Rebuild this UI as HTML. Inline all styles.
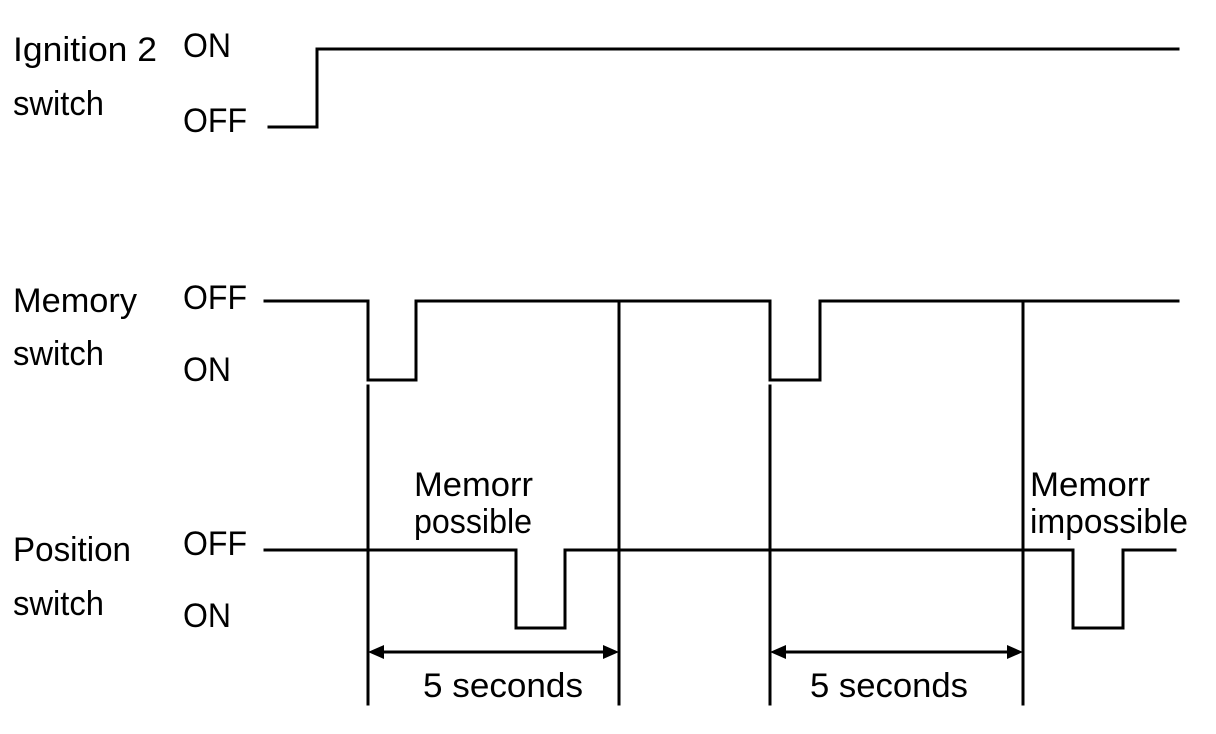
<!DOCTYPE html>
<html><head><meta charset="utf-8"><style>
html,body{margin:0;padding:0;background:#fff;}
svg{display:block;}
text{font-family:"Liberation Sans",Arial,sans-serif;font-size:34px;fill:#000;}
</style></head><body>
<svg width="1216" height="734" viewBox="0 0 1216 734" xmlns="http://www.w3.org/2000/svg">
<g fill="none" stroke="#000" stroke-width="3" stroke-linecap="square">
<polyline points="269,127 317,127 317,49 1178,49"/>
<polyline points="265,301 368,301 368,380 416,380 416,301 770,301 770,380 820,380 820,301 1178,301"/>
<polyline points="265,550 516,550 516,628 565,628 565,550 1073,550 1073,628 1123,628 1123,550 1175,550"/>
<line x1="368" y1="386" x2="368" y2="704"/>
<line x1="619" y1="301" x2="619" y2="704"/>
<line x1="770" y1="386" x2="770" y2="704"/>
<line x1="1023" y1="301" x2="1023" y2="704"/>
<line x1="380" y1="652" x2="606" y2="652"/>
<line x1="782" y1="652" x2="1010" y2="652"/>
</g>
<g fill="#000">
<polygon points="368,652 384,645 384,659"/>
<polygon points="619,652 603,645 603,659"/>
<polygon points="770,652 786,645 786,659"/>
<polygon points="1023,652 1007,645 1007,659"/>
</g>
<text x="13" y="61" textLength="144" lengthAdjust="spacingAndGlyphs">Ignition 2</text>
<text x="13" y="115" textLength="91" lengthAdjust="spacingAndGlyphs">switch</text>
<text x="183" y="57" textLength="48" lengthAdjust="spacingAndGlyphs">ON</text>
<text x="183" y="132" textLength="64" lengthAdjust="spacingAndGlyphs">OFF</text>
<text x="13" y="312" textLength="124" lengthAdjust="spacingAndGlyphs">Memory</text>
<text x="13" y="365" textLength="91" lengthAdjust="spacingAndGlyphs">switch</text>
<text x="183" y="309" textLength="64" lengthAdjust="spacingAndGlyphs">OFF</text>
<text x="183" y="381" textLength="48" lengthAdjust="spacingAndGlyphs">ON</text>
<text x="13" y="561" textLength="118" lengthAdjust="spacingAndGlyphs">Position</text>
<text x="13" y="615" textLength="91" lengthAdjust="spacingAndGlyphs">switch</text>
<text x="183" y="555" textLength="64" lengthAdjust="spacingAndGlyphs">OFF</text>
<text x="183" y="627" textLength="48" lengthAdjust="spacingAndGlyphs">ON</text>
<text x="414" y="496" textLength="119" lengthAdjust="spacingAndGlyphs">Memorr</text>
<text x="414" y="533" textLength="118" lengthAdjust="spacingAndGlyphs">possible</text>
<text x="1030" y="496" textLength="120" lengthAdjust="spacingAndGlyphs">Memorr</text>
<text x="1030" y="533" textLength="158" lengthAdjust="spacingAndGlyphs">impossible</text>
<text x="423" y="697" textLength="160" lengthAdjust="spacingAndGlyphs">5 seconds</text>
<text x="810" y="697" textLength="158" lengthAdjust="spacingAndGlyphs">5 seconds</text>
</svg>
</body></html>
